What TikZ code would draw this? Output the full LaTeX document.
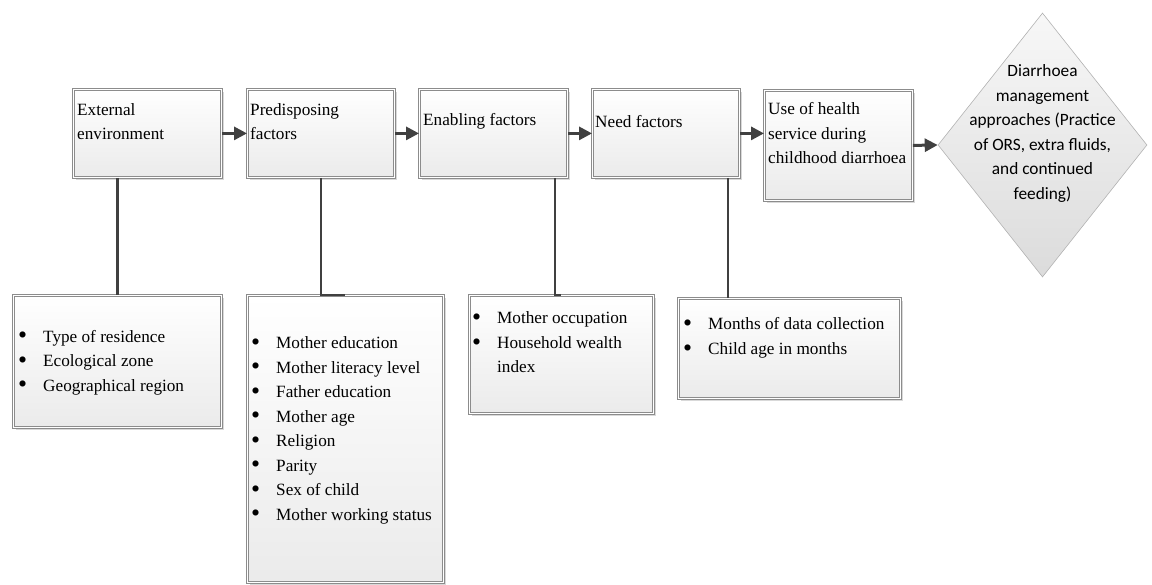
\documentclass[tikz,border=0pt]{standalone}
\usepackage{fontspec}
\setmainfont{Liberation Serif}
\newfontfamily\diafont{Carlito}
\usepackage{tikz}
\usetikzlibrary{arrows.meta}
\usetikzlibrary{positioning}
\usetikzlibrary{calc}
\usetikzlibrary{shadows}
\usetikzlibrary{shapes.geometric}
\definecolor{lineGray}{HTML}{404040}
\definecolor{frameGray}{HTML}{8C8C8C}
\tikzstyle{flow->} = [line width = 3pt, color = lineGray, -{Triangle[length = 13pt, width = 13pt]}]
\tikzstyle{link} = [line width = 2.4pt, color = lineGray]
\newcommand{\blt}{\makebox[25pt][l]{\raisebox{-0.1em}{\scalebox{1.5}{\textbullet}}}}

\begin{document}
\begin{tikzpicture}[x = 1pt, y = -1pt, font = \fontsize{17.2}{24.5}\selectfont]
		% Variables
		\pgfmathsetmacro{\topY}{89}
		\pgfmathsetmacro{\topH}{88}
		\pgfmathsetmacro{\lowY}{295}
		% Styles
		\tikzstyle{frame} = [draw = frameGray, line width = 0.8pt, double = white, double distance = 1.6pt, top color = white, bottom color = gray!16, anchor = north west, inner sep = 0pt, drop shadow = {shadow xshift = 3pt, shadow yshift = -3pt, fill = black!15, opacity = 1}]
		\tikzstyle{caption} = [anchor = west, inner sep = 0pt, align = left]
		\tikzstyle{choice} = [diamond, draw = gray!60, line width = 0.6pt, top color = gray!6, bottom color = gray!28, minimum width = 209pt, minimum height = 264pt, inner sep = 0pt]
		\useasboundingbox (0, 0) rectangle (1152, 585);
		% Upper row
		\node[frame, minimum width = 148pt, minimum height = \topH pt] (ext) at (73, \topY) {};
		\node[frame, minimum width = 147pt, minimum height = \topH pt] (pre) at (247, \topY) {};
		\node[frame, minimum width = 148pt, minimum height = \topH pt] (ena) at (419, \topY) {};
		\node[frame, minimum width = 147pt, minimum height = \topH pt] (need) at (592, \topY) {};
		\node[frame, minimum width = 148pt, minimum height = 110pt] (use) at (764, 90) {};
		\node[choice] (dia) at (1042.5, 145) {};
		\node[caption] (extT) at ([xshift = 4pt, yshift = 12pt]ext.west) {External\\environment};
		\node[caption] (preT) at ([xshift = 3pt, yshift = 12pt]pre.west) {Predisposing\\factors};
		\node[caption] (enaT) at ([xshift = 4pt, yshift = 12pt]ena.west) {Enabling factors};
		\node[caption] (needT) at ([xshift = 3pt, yshift = 12pt]need.west) {Need factors};
		\node[caption] (useT) at ([xshift = 4pt, yshift = 12pt]use.west) {Use of health\\service during\\childhood diarrhoea};
		\node[align = center, inner sep = 0pt, font = \diafont\fontsize{17.3}{24.6}\selectfont] (diaT) at ([yshift = 11.5pt]dia.center) {Diarrhoea\\management\\approaches (Practice\\of ORS, extra fluids,\\and continued\\feeding)};
		% Lower row
		\node[frame, minimum width = 208pt, minimum height = 132pt] (b1) at (13, \lowY) {};
		\node[frame, minimum width = 196pt, minimum height = 287pt] (b2) at (247, \lowY) {};
		\node[frame, minimum width = 184pt, minimum height = 118pt] (b3) at (469, \lowY) {};
		\node[frame, minimum width = 222pt, minimum height = 100pt] (b4) at (678, 298) {};
		\node[caption] (b1T) at ([xshift = 5pt, yshift = -1pt]b1.west) {\blt Type of residence\\\blt Ecological zone\\\blt Geographical region};
		\node[caption] (b2T) at ([xshift = 4pt, yshift = 8.5pt]b2.west) {\blt Mother education\\\blt Mother literacy level\\\blt Father education\\\blt Mother age\\\blt Religion\\\blt Parity\\\blt Sex of child\\\blt Mother working status};
		\node[caption] (b3T) at ([xshift = 3pt, yshift = 12pt]b3.west) {\blt Mother occupation\\\blt Household wealth\\\hspace*{25pt}index};
		\node[caption] (b4T) at ([xshift = 5pt, yshift = 10.5pt]b4.west) {\blt Months of data collection\\\blt Child age in months};
		% Arrows
		\draw[flow->] (ext.east) -- (pre.west);
		\draw[flow->] (pre.east) -- (ena.west);
		\draw[flow->] (ena.east) -- (need.west);
		\draw[flow->] (need.east) -- (need.east -| use.west);
		\draw[flow->] (use.east) -- (dia.west);
		% Links to the lists
		\coordinate (enaFoot) at ([xshift = -13pt]ena.south east);
		\coordinate (needFoot) at ([xshift = -12pt]need.south east);
		\draw[link] (ext.south -| b1.north) -- (b1.north);
		\draw[link] (pre.south) |- (b2.north);
		\draw[link] (enaFoot) |- (b3.north);
		\draw[link] (needFoot) -- (needFoot |- b4.north);
	\end{tikzpicture}
\end{document}
